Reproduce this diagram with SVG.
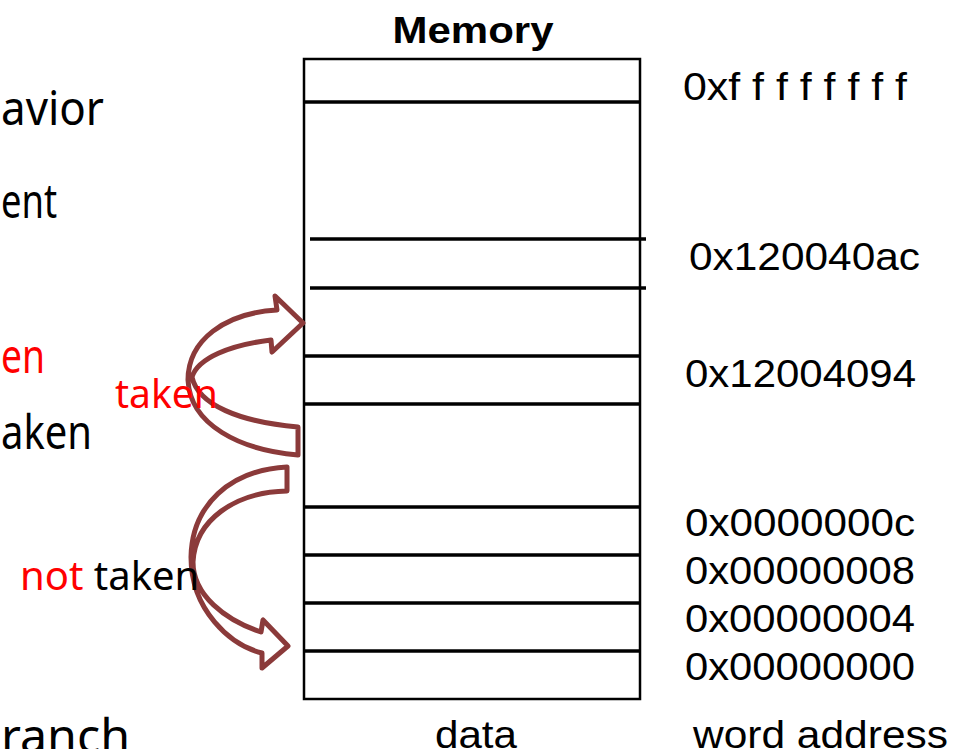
<svg xmlns="http://www.w3.org/2000/svg" width="965" height="749" viewBox="0 0 965 749">
<style>
.big{font-family:"Noto Sans","Open Sans",sans-serif;font-size:47px;fill:#000}
.mid{font-family:"Noto Sans","Open Sans",sans-serif;font-size:40px}
.addr{font-family:"Liberation Sans",Arial,sans-serif;font-size:38px;fill:#000}
.red{fill:#FF0000}
.blk{fill:#000}
.row{stroke:#000;stroke-width:3.5}
.arrow{fill:none;stroke:#8B3A3A;stroke-width:5;stroke-linejoin:round}
</style>
<rect width="965" height="749" fill="#fff"/>
<g id="left-text">
<text class="big" x="1" y="125" textLength="103" lengthAdjust="spacingAndGlyphs">avior</text>
<text class="big" x="1" y="218" textLength="56" lengthAdjust="spacingAndGlyphs">ent</text>
<text class="big red" x="1" y="373" textLength="44" lengthAdjust="spacingAndGlyphs">en</text>
<text class="big" x="1" y="449" textLength="91" lengthAdjust="spacingAndGlyphs">aken</text>
<text class="big" x="1" y="753" textLength="129" lengthAdjust="spacingAndGlyphs">ranch</text>
</g>
<g id="memory">
<text x="473" y="43" text-anchor="middle" font-family="Liberation Sans, Arial, sans-serif" font-weight="bold" font-size="37" textLength="161" lengthAdjust="spacingAndGlyphs">Memory</text>
<rect x="304" y="59" width="336" height="640" fill="none" stroke="#000" stroke-width="2.5"/>
<line class="row" x1="304" y1="102" x2="640" y2="102"/>
<line class="row" x1="310" y1="239" x2="646" y2="239"/>
<line class="row" x1="310" y1="288" x2="646" y2="288"/>
<line class="row" x1="304" y1="356" x2="640" y2="356"/>
<line class="row" x1="304" y1="404" x2="640" y2="404"/>
<line class="row" x1="304" y1="507" x2="640" y2="507"/>
<line class="row" x1="304" y1="555" x2="640" y2="555"/>
<line class="row" x1="304" y1="603" x2="640" y2="603"/>
<line class="row" x1="304" y1="651" x2="640" y2="651"/>
<text class="addr" x="435" y="748" font-size="40" textLength="82" lengthAdjust="spacingAndGlyphs">data</text>
</g>
<g id="addresses">
<text class="addr" x="683" y="100" textLength="224" lengthAdjust="spacingAndGlyphs">0xf f f f f f f f</text>
<text class="addr" x="689" y="270" textLength="231" lengthAdjust="spacingAndGlyphs">0x120040ac</text>
<text class="addr" x="685" y="387" textLength="231" lengthAdjust="spacingAndGlyphs">0x12004094</text>
<text class="addr" x="685" y="536" textLength="230" lengthAdjust="spacingAndGlyphs">0x0000000c</text>
<text class="addr" x="685" y="584" textLength="230" lengthAdjust="spacingAndGlyphs">0x00000008</text>
<text class="addr" x="685" y="632" textLength="230" lengthAdjust="spacingAndGlyphs">0x00000004</text>
<text class="addr" x="685" y="680" textLength="230" lengthAdjust="spacingAndGlyphs">0x00000000</text>
<text class="addr" x="693" y="748" textLength="255" lengthAdjust="spacingAndGlyphs">word address</text>
</g>
<g id="connectors">
<path id="taken-arrow" class="arrow" d="M298,455 C240,450 190,425 188,380 C188,340 225,313 277,310 L275,296 L303,323 L272,352 L271,340 C230,345 198,358 192,377 C198,405 240,422 298,427 Z"/>
<path id="not-taken-arrow" class="arrow" d="M287,467 C230,470 192,505 191,557 C191,610 230,645 262,653 L262,668 L288,646 L263,620 L261,632 C225,620 193,595 193,562 C195,520 235,492 287,491 Z"/>
</g>
<g id="labels">
<text class="mid red" x="115" y="408" textLength="103" lengthAdjust="spacingAndGlyphs">taken</text>
<text class="mid" x="20" y="590"><tspan class="red">not</tspan><tspan class="blk"> taken</tspan></text>
</g>
</svg>
